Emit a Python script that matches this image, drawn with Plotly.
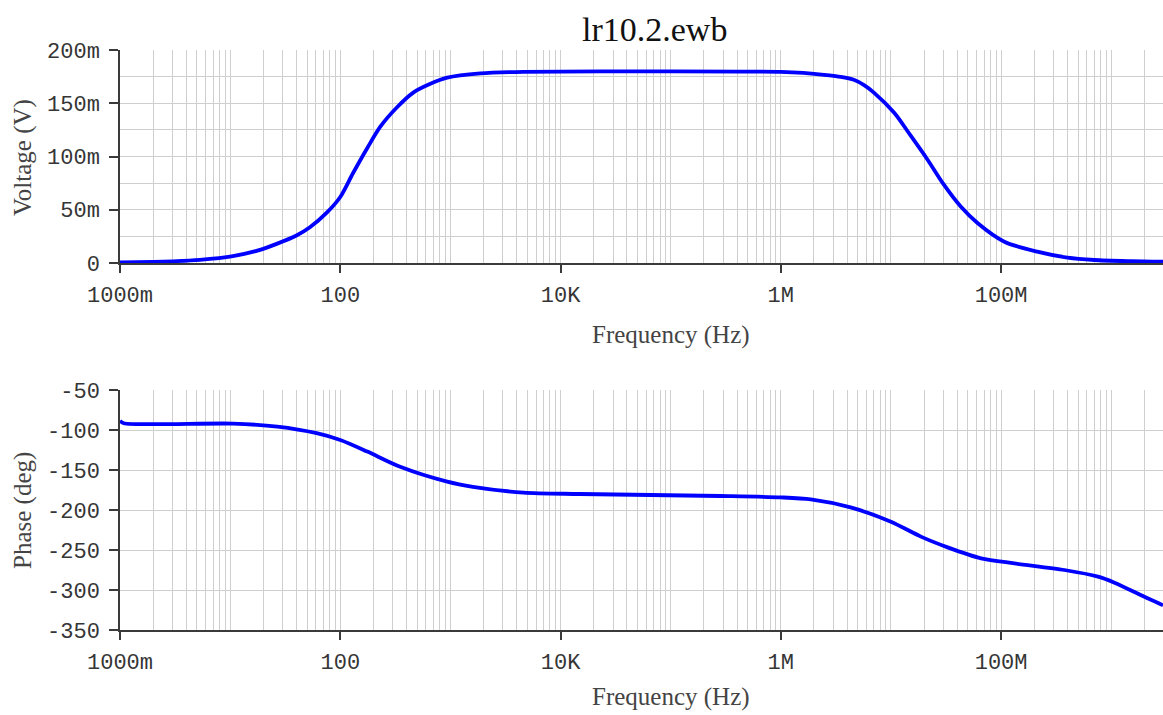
import plotly.graph_objects as go
from plotly.subplots import make_subplots

# AC analysis results for lr10.2.ewb
freq_voltage_hz = [1, 2, 3, 5.3, 10.6, 18, 26.8, 40, 53, 75, 100, 130, 176, 231, 326, 460,
                   650, 935, 1870, 4600, 1e5, 1e6, 1.6e6, 2.6e6, 3.5e6, 4.6e6, 5.7e6, 7e6,
                   10.7e6, 15e6, 21.5e6, 30e6, 43e6, 61e6, 107e6, 213e6, 400e6, 700e6, 1.5e9,
                   2.95e9]
voltage_v = [0.0005, 0.001, 0.0016, 0.003, 0.0065, 0.0118, 0.0182, 0.0258, 0.0335, 0.047,
             0.062, 0.084, 0.108, 0.128, 0.146, 0.160, 0.168, 0.174, 0.178, 0.1795, 0.180,
             0.1795, 0.1785, 0.1765, 0.1748, 0.172, 0.167, 0.160, 0.141, 0.120, 0.097, 0.074,
             0.053, 0.0376, 0.020, 0.0106, 0.005, 0.0028, 0.0017, 0.0012]

freq_phase_hz = [1, 1.08, 10.6, 26.8, 61, 100, 176, 350, 935, 1600, 4600, 15e3, 283e3, 1e6,
                 1.87e6, 4.3e6, 10e6, 18.7e6, 32.7e6, 65.8e6, 132e6, 376e6, 758e6, 1.07e9,
                 2.14e9, 2.95e9]
phase_deg = [-88.5, -91.5, -92, -95.8, -104, -112.5, -127, -146, -164.6, -171, -178.3, -180,
             -182.5, -184.2, -186.7, -196.7, -214.6, -233.3, -246.7, -260.4, -266.7, -275,
             -283.3, -290.8, -310.4, -319]

x_tick_vals = [1, 100, 1e4, 1e6, 1e8]
x_tick_text = ["1000m", "100", "10K", "1M", "100M"]
v_tick_vals = [0, 0.05, 0.10, 0.15, 0.20]
v_tick_text = ["0", "50m", "100m", "150m", "200m"]
p_tick_vals = [-350, -300, -250, -200, -150, -100, -50]
p_tick_text = ["-350", "-300", "-250", "-200", "-150", "-100", "-50"]

W, H = 1163, 715


def px_x(x):
    return x / W


def px_y(y):
    return 1 - y / H


# log-decade grid: 1..9 x 10^n
minor_x = [k * 10 ** n for n in range(0, 10) for k in range(1, 10) if k * 10 ** n <= 3e9]

fig = make_subplots(rows=2, cols=1)

line_style = dict(color="#0000ff", width=3.8, shape="spline", smoothing=0.8)
fig.add_trace(go.Scatter(x=freq_voltage_hz, y=voltage_v, mode="lines", line=line_style,
                         showlegend=False), row=1, col=1)
fig.add_trace(go.Scatter(x=freq_phase_hz, y=phase_deg, mode="lines", line=line_style,
                         showlegend=False), row=2, col=1)

grid_col = "#cfcfcf"
axis_col = "#3a3a3a"
tick_font = dict(family="Liberation Mono, Courier New, monospace", size=22, color="#353535")
title_font = dict(family="Liberation Serif, Times New Roman, serif", size=25, color="#444444")

x_common = dict(
    type="log", range=[0, 9.47], tickmode="array", tickvals=x_tick_vals, ticktext=x_tick_text,
    showgrid=True, gridcolor=grid_col, gridwidth=1,
    minor=dict(tickmode="array", tickvals=minor_x, showgrid=True, gridcolor=grid_col,
               gridwidth=1, ticks=""),
    showline=True, linecolor=axis_col, linewidth=1.5,
    ticks="outside", ticklen=8, tickwidth=1.5, tickcolor=axis_col,
    tickfont=tick_font, ticklabelstandoff=3, zeroline=False, automargin=False,
)
y_common = dict(
    showgrid=True, gridcolor=grid_col, gridwidth=1,
    showline=True, linecolor=axis_col, linewidth=1.5,
    ticks="outside", ticklen=9, tickwidth=1.5, tickcolor=axis_col,
    tickfont=tick_font, ticklabelstandoff=5, zeroline=False, automargin=False,
)

fig.update_layout(
    width=W, height=H, autosize=False,
    margin=dict(l=0, r=0, t=0, b=0, pad=0),
    paper_bgcolor="white", plot_bgcolor="white",
    xaxis=dict(domain=[px_x(120), 1], anchor="y", **x_common),
    xaxis2=dict(domain=[px_x(120), 1], anchor="y2", **x_common),
    yaxis=dict(domain=[px_y(263), px_y(50)], anchor="x", range=[0, 0.2],
               tickmode="array", tickvals=v_tick_vals, ticktext=v_tick_text,
               minor=dict(tickmode="array", tickvals=[0.025, 0.075, 0.125, 0.175],
                          showgrid=True, gridcolor=grid_col, gridwidth=1, ticks=""),
               **y_common),
    yaxis2=dict(domain=[px_y(630), px_y(390)], anchor="x2", range=[-350, -50],
                tickmode="array", tickvals=p_tick_vals, ticktext=p_tick_text,
                **y_common),
    annotations=[
        dict(text="lr10.2.ewb", x=px_x(654), y=px_y(29), xref="paper", yref="paper",
             xanchor="center", yanchor="middle", showarrow=False,
             font=dict(family="Liberation Serif, Times New Roman, serif", size=34,
                       color="#111111")),
        dict(text="Frequency (Hz)", x=px_x(671), y=px_y(335), xref="paper", yref="paper",
             xanchor="center", yanchor="middle", showarrow=False, font=title_font),
        dict(text="Frequency (Hz)", x=px_x(671), y=px_y(697), xref="paper", yref="paper",
             xanchor="center", yanchor="middle", showarrow=False, font=title_font),
        dict(text="Voltage (V)", x=px_x(23), y=px_y(158), xref="paper", yref="paper",
             xanchor="center", yanchor="middle", textangle=-90, showarrow=False,
             font=title_font),
        dict(text="Phase (deg)", x=px_x(23), y=px_y(511), xref="paper", yref="paper",
             xanchor="center", yanchor="middle", textangle=-90, showarrow=False,
             font=title_font),
    ],
)

fig.write_html("out.html")
